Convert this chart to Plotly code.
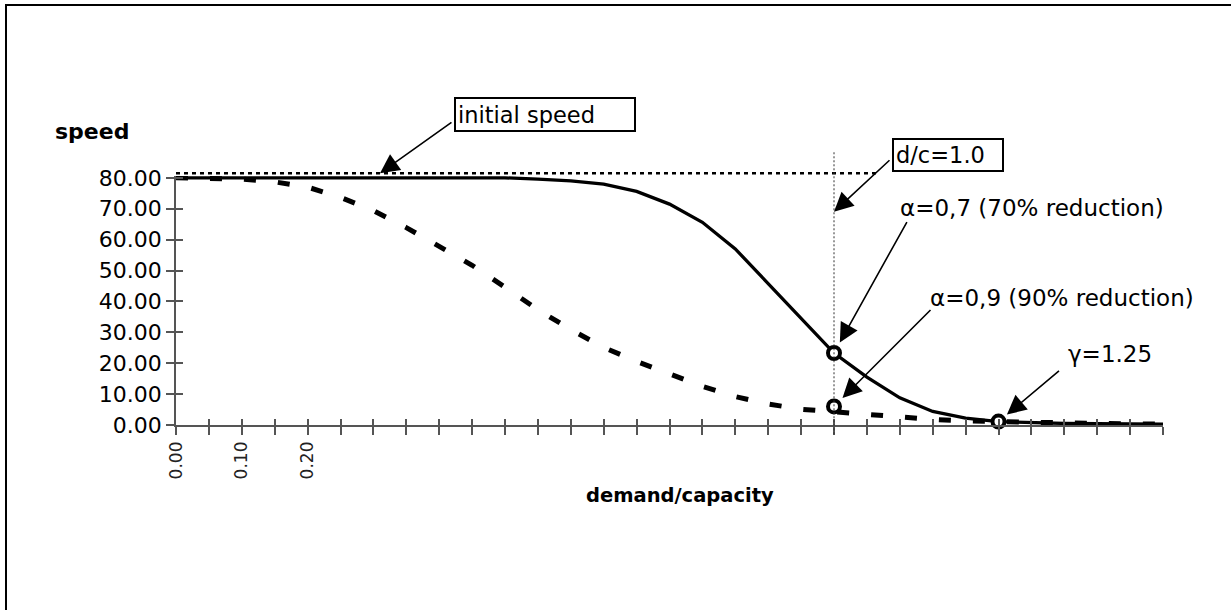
import plotly.graph_objects as go

# demand/capacity ratio sampled every 0.05
demand_capacity = [0.00, 0.05, 0.10, 0.15, 0.20, 0.25, 0.30, 0.35, 0.40, 0.45,
                   0.50, 0.55, 0.60, 0.65, 0.70, 0.75, 0.80, 0.85, 0.90, 0.95,
                   1.00, 1.05, 1.10, 1.15, 1.20, 1.25, 1.30, 1.35, 1.40, 1.45, 1.50]

# speed with alpha = 0.7 (solid)
speed_alpha_07 = [80.0, 80.0, 80.0, 80.0, 80.0, 80.0, 80.0, 80.0, 80.0, 80.0,
                  80.0, 79.6, 79.0, 78.0, 75.6, 71.5, 65.6, 57.0, 45.8, 34.4,
                  23.3, 15.5, 8.8, 4.4, 2.2, 1.1, 0.7, 0.5, 0.4, 0.3, 0.3]

# speed with alpha = 0.9 (dashed)
speed_alpha_09 = [80.0, 80.0, 79.6, 78.7, 77.0, 73.7, 69.4, 63.9, 58.0, 51.7,
                  44.6, 37.3, 30.9, 25.1, 20.6, 16.4, 12.5, 9.2, 6.8, 5.1,
                  4.3, 3.3, 2.4, 1.8, 1.3, 1.0, 0.8, 0.6, 0.5, 0.4, 0.3]

# highlighted points
point_x = [1.00, 1.00, 1.25]
point_y = [23.3, 6.0, 1.1]

# reference lines
initial_speed_line = 81.5
dc_line = 1.0

x_tick_labels = {0.00: "0.00", 0.10: "0.10", 0.20: "0.20"}

X_MAX = 1.5
Y_MAX = 80.6

FIG_W, FIG_H = 1231, 610
M_L, M_R, M_T, M_B = 176, 68, 176, 185
PLOT_W = FIG_W - M_L - M_R
PLOT_H = FIG_H - M_T - M_B
FONT = "DejaVu Sans"


def px_x(px):
    return (px - M_L) / PLOT_W


def px_y(py):
    return (FIG_H - M_B - py) / PLOT_H


def dx(v):
    return v / X_MAX


def dy(v):
    return v / Y_MAX


ticktext = [x_tick_labels.get(round(v, 2), "") for v in demand_capacity]

fig = go.Figure()

fig.add_trace(go.Scatter(
    x=demand_capacity, y=speed_alpha_09, mode="lines",
    line=dict(color="black", width=5, dash="12px,22px"),
    hoverinfo="skip", showlegend=False))

fig.add_trace(go.Scatter(
    x=demand_capacity, y=speed_alpha_07, mode="lines",
    line=dict(color="black", width=3.3),
    hoverinfo="skip", showlegend=False))

fig.add_trace(go.Scatter(
    x=point_x, y=point_y, mode="markers", cliponaxis=False,
    marker=dict(symbol="circle", size=12, color="white",
                line=dict(color="black", width=4)),
    hoverinfo="skip", showlegend=False))

# invisible trace carrying the inner tick marks
fig.add_trace(go.Scatter(x=[None], y=[None], xaxis="x2", yaxis="y2",
                         showlegend=False, hoverinfo="skip"))

axis_col = "#555555"

fig.update_layout(
    width=FIG_W, height=FIG_H,
    margin=dict(l=M_L, r=M_R, t=M_T, b=M_B),
    paper_bgcolor="white", plot_bgcolor="white",
    font=dict(family=FONT, color="black"),
    xaxis=dict(range=[0, X_MAX], tickvals=demand_capacity, ticktext=ticktext,
               tickangle=-90, ticks="outside", ticklen=8, tickwidth=1.5,
               tickcolor=axis_col, showline=True, linecolor=axis_col,
               linewidth=1.5, showgrid=False, zeroline=False,
               tickfont=dict(family=FONT, size=17, color="#222222")),
    xaxis2=dict(overlaying="x", anchor="y", range=[0, X_MAX],
                tickvals=demand_capacity, ticks="inside", ticklen=6,
                tickwidth=1.5, tickcolor=axis_col, showticklabels=False,
                showline=False, showgrid=False, zeroline=False, side="bottom"),
    yaxis=dict(range=[0, Y_MAX], tick0=0, dtick=10, tickformat=".2f",
               ticks="outside", ticklen=8, tickwidth=1.5, tickcolor=axis_col,
               showline=True, linecolor=axis_col, linewidth=1.5,
               showgrid=False, zeroline=False,
               tickfont=dict(family=FONT, size=22, color="black")),
    yaxis2=dict(overlaying="y", anchor="x", range=[0, Y_MAX], tick0=0, dtick=10,
                ticks="inside", ticklen=7, tickwidth=1.5, tickcolor=axis_col,
                showticklabels=False, showline=False, showgrid=False,
                zeroline=False, side="left"),
)

shapes = [
    # frame around the chart
    dict(type="rect", xref="paper", yref="paper",
         x0=px_x(6), x1=px_x(1400), y0=px_y(800), y1=px_y(5),
         line=dict(color="black", width=2), fillcolor="rgba(0,0,0,0)", layer="below"),
    # initial speed guide
    dict(type="line", xref="paper", yref="paper",
         x0=dx(0), x1=dx(1.065), y0=dy(initial_speed_line), y1=dy(initial_speed_line),
         line=dict(color="black", width=2.5, dash="4px,4px")),
    # d/c = 1.0 guide
    dict(type="line", xref="paper", yref="paper",
         x0=dx(dc_line), x1=dx(dc_line), y0=dy(-3), y1=dy(88.5),
         line=dict(color="#333333", width=1, dash="2px,2px")),
]
fig.update_layout(shapes=shapes)

arrow_style = dict(showarrow=True, arrowhead=2, arrowsize=2.4, arrowwidth=1.6,
                   arrowcolor="black", text=" ", font=dict(size=1))

label_font = dict(family=FONT, size=23, color="black")

annotations = [
    dict(text="<b>speed</b>", xref="paper", yref="paper", x=px_x(53), y=px_y(131),
         xanchor="left", yanchor="middle", showarrow=False,
         font=dict(family=FONT, size=22, color="black")),
    dict(text="<b>demand/capacity</b>", xref="paper", yref="paper",
         x=px_x(680), y=px_y(495), xanchor="center", yanchor="middle",
         showarrow=False, font=dict(family=FONT, size=19.5, color="black")),
    dict(text="initial speed", xref="paper", yref="paper", x=px_x(454), y=px_y(97),
         xanchor="left", yanchor="top", showarrow=False, align="left",
         width=174, height=27, bordercolor="black", borderwidth=2, borderpad=2,
         bgcolor="white", font=dict(family=FONT, size=22.5, color="black")),
    dict(text="d/c=1.0", xref="paper", yref="paper", x=px_x(892), y=px_y(138),
         xanchor="left", yanchor="top", showarrow=False, align="left",
         width=104, height=26, bordercolor="black", borderwidth=2, borderpad=2,
         bgcolor="white", font=dict(family=FONT, size=22.5, color="black")),
    dict(text="α=0,7 (70% reduction)", xref="paper", yref="paper",
         x=px_x(898), y=px_y(208), xanchor="left", yanchor="middle",
         showarrow=False, font=label_font),
    dict(text="α=0,9 (90% reduction)", xref="paper", yref="paper",
         x=px_x(928), y=px_y(298), xanchor="left", yanchor="middle",
         showarrow=False, font=label_font),
    dict(text="γ=1.25", xref="paper", yref="paper",
         x=px_x(1066), y=px_y(354), xanchor="left", yanchor="middle",
         showarrow=False, font=label_font),
    # arrows
    dict(xref="paper", yref="paper", x=dx(0.31), y=dy(initial_speed_line),
         ax=73, ay=-52, **arrow_style),
    dict(xref="x", yref="y", x=dc_line, y=69.0, ax=57, ay=-53, **arrow_style),
    dict(xref="x", yref="y", x=point_x[0], y=point_y[0], ax=74, ay=-133,
         standoff=12, **arrow_style),
    dict(xref="x", yref="y", x=point_x[1], y=point_y[1], ax=98, ay=-98,
         standoff=12, **arrow_style),
    dict(xref="x", yref="y", x=point_x[2], y=point_y[2], ax=62, ay=-52,
         standoff=11, **arrow_style),
]
fig.update_layout(annotations=annotations)

fig.write_html("out.html")
